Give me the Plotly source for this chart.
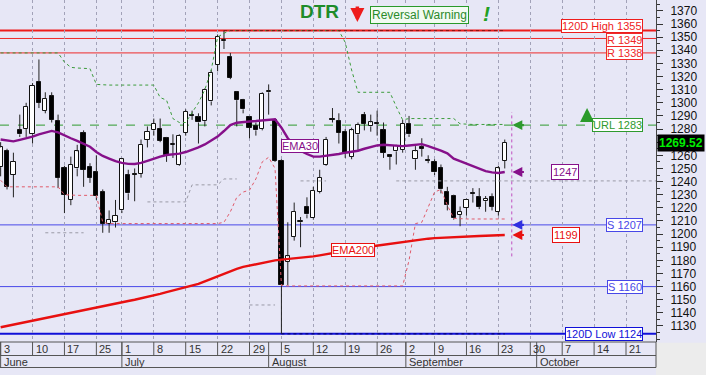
import plotly.graph_objects as go
import pandas as pd
import numpy as np

# ---------------- data ----------------
holidays = ["2013-06-24", "2013-09-02"]
all_days = pd.bdate_range("2013-06-03", "2013-10-31")
trade_days = [d for d in all_days if d.strftime("%Y-%m-%d") not in holidays]

opens = [1251, 1263, 1245, 1279, 1280, 1276, 1316, 1294, 1305, 1286,
         1250, 1226, 1250, 1277, 1251, 1247, 1232, 1208, 1209, 1218,
         1245, 1246, 1246, 1272, 1279, 1280, 1273, 1268, 1253, 1277,
         1291, 1289, 1286, 1301, 1329, 1347, 1335, 1308, 1302, 1289,
         1282, 1280, 1308, 1287, 1256, 1179, 1198, 1209, 1221, 1212,
         1232, 1253, 1288, 1286, 1278, 1259, 1276, 1291, 1282, 1284.5,
         1279, 1260, 1263, 1264, 1284, 1257, 1266, 1256.5, 1255, 1250,
         1232, 1229, 1214.5, 1220, 1231, 1228, 1225, 1228, 1217, 1256]
highs = [1270, 1265, 1262, 1291, 1300, 1315, 1333, 1308, 1308, 1291,
         1252, 1259, 1268, 1279, 1254, 1260, 1234, 1218, 1226, 1258,
         1249, 1250, 1272, 1282, 1288, 1288, 1274, 1276, 1276, 1295,
         1294, 1292, 1311, 1325, 1352, 1355, 1338, 1309, 1303, 1290,
         1285, 1308, 1314, 1288, 1257, 1209, 1224, 1213, 1228, 1236,
         1249, 1274, 1296, 1292, 1280, 1281, 1285, 1293, 1291, 1294,
         1285, 1261, 1268, 1287, 1290, 1267, 1273, 1260, 1257, 1253,
         1236, 1230, 1221, 1227, 1235, 1235, 1229, 1231, 1252, 1272]
lows = [1244, 1234, 1228, 1274, 1274, 1269, 1296, 1292, 1285, 1235,
        1216, 1222, 1244, 1236, 1239, 1226, 1201, 1201, 1205, 1216,
        1226, 1225, 1243, 1266, 1275, 1270, 1255, 1258, 1252, 1275,
        1287, 1269, 1282, 1298, 1324, 1341, 1318, 1282, 1292, 1273,
        1275, 1279, 1291, 1255, 1124, 1161, 1195, 1190, 1212, 1211,
        1231, 1252, 1285, 1269, 1258, 1257, 1264, 1279, 1278, 1275,
        1258, 1249, 1253, 1262, 1274, 1249, 1259, 1254, 1245, 1231,
        1218, 1211, 1206, 1214, 1224, 1219, 1217, 1218, 1214, 1250]
closes = [1266, 1236, 1255, 1276, 1297, 1313, 1300, 1303, 1287, 1243,
          1230, 1253, 1263, 1249, 1243, 1229, 1208, 1211, 1214, 1257,
          1231, 1245, 1268, 1278, 1284, 1271, 1260, 1269, 1275, 1293,
          1290, 1285, 1310, 1323, 1350, 1347.5, 1319, 1302, 1295, 1281,
          1279, 1307, 1308.5, 1256, 1161, 1183, 1217, 1210, 1215, 1233,
          1243, 1272, 1287, 1277, 1262, 1279, 1283, 1284, 1285, 1284,
          1262, 1259, 1267, 1284, 1276, 1263, 1265, 1256, 1247, 1234,
          1222, 1212, 1217, 1226, 1230.5, 1221, 1227, 1221, 1250, 1269.52]

ema30 = [1272, 1271.2, 1270.6, 1271.8, 1273, 1274.2, 1276, 1277.5, 1278.6, 1277.5,
         1275, 1273, 1271, 1269, 1266.5, 1262.5, 1259.5, 1257.5, 1255.5, 1254.2,
         1253.5, 1253.4, 1254.2, 1255.8, 1257.5, 1259, 1260.2, 1260.8, 1261.3, 1262.5,
         1264.2, 1266, 1268.3, 1271, 1274.3, 1278.5, 1283, 1284.8, 1285.5, 1285.8,
         1286.1, 1286.5, 1287, 1287.5, 1281, 1273, 1268, 1263.5, 1261, 1259,
         1259, 1259.5, 1260.5, 1261, 1262, 1262.5, 1263.5, 1265, 1266.5, 1267.5,
         1268, 1267.5, 1267, 1267, 1267.5, 1268, 1268.5, 1267, 1265.5, 1263.5,
         1261.5, 1257.5, 1255.5, 1253.5, 1251.5, 1249.5, 1248, 1247, 1246.5, 1247.3]
ema200 = [1129, 1130, 1131, 1132, 1133, 1134, 1135.5, 1136.5, 1137.2, 1138,
          1139, 1140, 1141, 1142, 1143, 1144.5, 1145.3, 1146, 1147, 1148,
          1149, 1150, 1151, 1152.2, 1153.2, 1154.5, 1155.8, 1157, 1158.3, 1159.5,
          1160.8, 1162, 1164, 1166, 1168, 1170, 1172, 1173.5, 1175, 1176,
          1177, 1178.5, 1179.3, 1180, 1180.5, 1181, 1181.3, 1181.7, 1182.3, 1183,
          1183.8, 1184.7, 1185.5, 1186.5, 1187.5, 1188.3, 1189, 1189.8, 1190.5, 1191.2,
          1192, 1192.7, 1193.4, 1194, 1194.7, 1195.3, 1196, 1196.5, 1196.9, 1197.2,
          1197.5, 1197.7, 1197.9, 1198.1, 1198.3, 1198.5, 1198.7, 1198.8, 1199, 1199.3]
upper_band = [1338, 1338, 1338, 1338, 1338, 1338, 1338, 1338, 1338, 1338,
              1331, 1327, 1326.5, 1326.5, 1326, 1314, 1313.5, 1313.5, 1313.5, 1313.5,
              1313.5, 1313.5, 1313.5, 1313.5, 1313.5, 1304, 1302, 1288, 1285, 1285,
              1293, 1300, 1310, 1325, 1350, 1353, 1355, 1355, 1355, 1355,
              1355, 1355, 1355, 1355, 1355, 1355, 1355, 1355, 1355, 1355,
              1355, 1355, 1355, 1355, 1346, 1325, 1308, 1308, 1308, 1308,
              1308, 1308, 1297, 1287, 1288, 1288, 1288, 1288, 1288, 1288,
              1288, 1288, 1284, 1283.5, 1283.5, 1283.5, 1283.5, 1283.5, 1283.5, 1283.5]
lower_band = [1241, 1236, 1236, 1236, 1236, 1236, 1236, 1236, 1236, 1236,
              1230, 1229.5, 1229.5, 1229.5, 1229.5, 1229.5, 1209, 1208, 1208, 1208,
              1208, 1208, 1208, 1208, 1208, 1208, 1208, 1208, 1208, 1208,
              1208, 1208, 1208, 1208, 1208, 1209, 1217, 1228, 1232, 1233.5,
              1242, 1255, 1258.5, 1250, 1161, 1160.5, 1160.5, 1160.5, 1160.5, 1160.5,
              1160.5, 1160.5, 1160.5, 1160.5, 1160.5, 1160.5, 1160.5, 1160.5, 1160.5, 1160.5,
              1160.5, 1160.5, 1160.5, 1160.5, 1180, 1208, 1209, 1220, 1232, 1234,
              1222, 1212, 1211.5, 1211.5, 1211.5, 1211.5, 1211.5, 1211.5, 1211.5, 1211.5]
N = None
grey_band = [N, N, N, N, N, N, N, 1201, 1201, 1201,
             1201, 1201, 1201, 1201, N, N, N, N, N, N,
             N, N, N, 1224.5, 1224.5, 1224.5, 1224.5, 1224.5, 1224.5, 1224.5,
             1237.5, 1237.5, 1237.5, 1237.5, 1237.5, 1242, 1242, 1242, N, 1146,
             1146, 1146, 1146, 1146, N, N, N, 1240.5, 1240.5, 1240.5,
             1240.5, 1240.5, N, N, N, N, N, N, N, N,
             N, N, 1240.5, 1240.5, 1240.5, 1240.5, 1240.5, 1240.5, 1240.5, 1240.5,
             1240.5, 1240.5, 1240.5, 1240.5, 1240.5, 1240.5, 1240.5, 1240.5, 1240.5, 1240.5]

level_labels = ["120D High 1355", "R 1349", "R 1338", "URL 1283", "S 1207", "S 1160", "120D Low 1124"]
level_values = [1355, 1349, 1338, 1283, 1207, 1160, 1124]
level_colors = ["#ee1c1c", "#ee2a2a", "#ee2a2a", "#2e9a2e", "#4848e8", "#4848e8", "#1010d8"]
level_box_shift = [5, -2, 0, 0, 0, 0, 0]

week_tick_dates = ["2013-06-03", "2013-06-10", "2013-06-17", "2013-06-25", "2013-07-01",
                   "2013-07-08", "2013-07-15", "2013-07-22", "2013-07-29", "2013-08-05",
                   "2013-08-12", "2013-08-19", "2013-08-26", "2013-09-02", "2013-09-09",
                   "2013-09-16", "2013-09-23", "2013-09-30", "2013-10-07", "2013-10-14",
                   "2013-10-21"]
month_dates = ["2013-06-03", "2013-07-01", "2013-08-01", "2013-09-02", "2013-10-01"]
month_names = ["June", "July", "August", "September", "October"]

y_ticks = list(range(1130, 1371, 10))
vline_top, vline_bottom = 1293, 1183

# ---------------- helpers ----------------
td_index = pd.DatetimeIndex(trade_days)


def pos(ds):
    d = pd.Timestamp(ds)
    k = td_index.searchsorted(d)
    if k < len(td_index) and td_index[k] == d:
        return float(k)
    return k - 0.5


n = len(closes)
x = list(range(n))
week_pos = [pos(d) for d in week_tick_dates]
week_txt = [str(pd.Timestamp(d).day) for d in week_tick_dates]
month_pos = [pos(d) for d in month_dates]
last_price = closes[-1]
y_ticktext = ["" if abs(v - last_price) < 4 else str(v) for v in y_ticks]

XR = [-0.1, 102.7]
YR = [1117.8, 1378.3]
FONT = "Liberation Sans Narrow, Arial Narrow, Liberation Sans, Arial, sans-serif"
FONT_R = "Liberation Sans, Arial, sans-serif"

fig = go.Figure()

# candle bodies (bars) and wicks (split so they never cross the bodies)
body_lo = [min(o, c) for o, c in zip(opens, closes)]
body_hi = [max(o, c) for o, c in zip(opens, closes)]
body_h = [max(h - l, 0.7) for h, l in zip(body_hi, body_lo)]
body_fill = ["#ffffff" if c >= o else "#000000" for o, c in zip(opens, closes)]
fig.add_trace(go.Bar(x=x, y=body_h, base=body_lo, width=0.66,
                     marker=dict(color=body_fill, line=dict(color="#111111", width=1)),
                     hoverinfo="skip"))
wx, wy = [], []
for i in range(n):
    wx += [i, i, None, i, i, None]
    wy += [highs[i], body_hi[i], None, body_lo[i], lows[i], None]
fig.add_trace(go.Scatter(x=wx, y=wy, mode="lines", line=dict(color="#222222", width=1),
                         connectgaps=False, hoverinfo="skip"))

# bands
fig.add_trace(go.Scatter(x=x, y=grey_band, mode="lines", line=dict(color="#9a9aa6", width=1, dash="dot"),
                         connectgaps=False, hoverinfo="skip"))
fig.add_trace(go.Scatter(x=x, y=upper_band, mode="lines", line=dict(color="#3c9c3c", width=1, dash="dot"),
                         hoverinfo="skip"))
fig.add_trace(go.Scatter(x=x, y=lower_band, mode="lines", line=dict(color="#e05a6a", width=1, dash="dot"),
                         hoverinfo="skip"))

# EMAs
fig.add_trace(go.Scatter(x=x, y=ema30, mode="lines", line=dict(color="#86108a", width=2.4), hoverinfo="skip"))
fig.add_trace(go.Scatter(x=x, y=ema200, mode="lines", line=dict(color="#e81010", width=2.4), hoverinfo="skip"))

# dotted extreme markers
hi_idx = int(np.argmax(highs))
lo_idx = int(np.argmin(lows))
fig.add_trace(go.Scatter(x=[hi_idx, n - 1], y=[max(highs)] * 2, mode="lines",
                         line=dict(color="#8a1010", width=1, dash="dot"), hoverinfo="skip"))
fig.add_trace(go.Scatter(x=[lo_idx, n - 1], y=[min(lows)] * 2, mode="lines",
                         line=dict(color="#000060", width=1, dash="dot"), hoverinfo="skip"))

shapes = []
annotations = []

for lab, val, col, sh in zip(level_labels, level_values, level_colors, level_box_shift):
    w = 2 if "120D" in lab else 1
    dash = "dash" if lab.startswith("URL") else "solid"
    shapes.append(dict(type="line", xref="paper", x0=0, x1=1, yref="y", y0=val, y1=val,
                       line=dict(color=col, width=w, dash=dash), layer="below"))
    annotations.append(dict(xref="paper", x=643 / 656, xanchor="right", yref="y", y=val,
                            yshift=sh,
                            text=lab, showarrow=False, font=dict(family=FONT, size=11, color=col),
                            bgcolor="#ffffff", bordercolor=col, borderwidth=1, borderpad=0))

shapes.append(dict(type="line", xref="x", x0=n - 1, x1=XR[1], yref="y", y0=1240.5, y1=1240.5,
                   line=dict(color="#9a9aa6", width=1, dash="dot"), layer="below"))

shapes.append(dict(type="line", xref="x", x0=n + 0.1, x1=n + 0.1, yref="y", y0=vline_bottom, y1=vline_top,
                   line=dict(color="#c050c0", width=1, dash="dot")))

arr_x = n + 0.2
for val, col in [(level_values[3], "#2e9a2e"), (ema30[-1], "#86108a"),
                 (level_values[4], "#3030e0"), (ema200[-1], "#e81010")]:
    annotations.append(dict(x=arr_x, y=val, xref="x", yref="y", ax=13, ay=0, text="",
                            showarrow=True, arrowhead=2, arrowsize=0.9, arrowwidth=2.2, arrowcolor=col))

annotations.append(dict(x=88.4, y=ema30[-1], xref="x", yref="y", text=f"{ema30[-1]:.0f}", showarrow=False,
                        font=dict(family=FONT_R, size=11, color="#86108a"), bgcolor="#ffffff",
                        bordercolor="#86108a", borderwidth=1, borderpad=1))
annotations.append(dict(x=88.6, y=ema200[-1], xref="x", yref="y", text=f"{ema200[-1]:.0f}", showarrow=False,
                        font=dict(family=FONT_R, size=11, color="#e81010"), bgcolor="#ffffff",
                        bordercolor="#e81010", borderwidth=1, borderpad=1))

annotations.append(dict(x=46.9, y=1267.1, xref="x", yref="y", text="EMA30", showarrow=False,
                        font=dict(family=FONT_R, size=11, color="#86108a"), bgcolor="#ffffff",
                        bordercolor="#86108a", borderwidth=1, borderpad=0))
annotations.append(dict(x=55.2, y=1187.5, xref="x", yref="y", text="EMA200", showarrow=False,
                        font=dict(family=FONT_R, size=11, color="#e81010"), bgcolor="#ffffff",
                        bordercolor="#e81010", borderwidth=1, borderpad=0))

annotations.append(dict(x=91.9, y=1296, xref="x", yref="y", ax=0, ay=15, text="", showarrow=True,
                        arrowhead=2, arrowsize=0.7, arrowwidth=4, arrowcolor="#2a9a2a"))

annotations.append(dict(x=49.9, y=1369.2, xref="x", yref="y", text="<b>DTR</b>", showarrow=False,
                        font=dict(family=FONT_R, size=19, color="#1e8c2a")))
annotations.append(dict(x=55.9, y=1361.5, xref="x", yref="y", ax=0, ay=-17, text="", showarrow=True,
                        arrowhead=2, arrowsize=0.8, arrowwidth=3.5, arrowcolor="#ee1c1c"))
annotations.append(dict(x=65.6, y=1366.9, xref="x", yref="y", text="Reversal Warning", showarrow=False,
                        font=dict(family=FONT, size=12, color="#2a8a2a"), bgcolor="#f2fbf2",
                        bordercolor="#2a9a2a", borderwidth=1, borderpad=1))
annotations.append(dict(x=76.1, y=1368.0, xref="x", yref="y", text="<b><i>!</i></b>", showarrow=False,
                        font=dict(family=FONT_R, size=21, color="#22a022")))

annotations.append(dict(xref="paper", x=1.0, xanchor="left", xshift=1, yref="y", y=last_price,
                        text=f"<b>{last_price:.2f}</b>", showarrow=False,
                        font=dict(family=FONT, size=12, color="#00ee00"), bgcolor="#000000",
                        borderpad=1))

# ---------------- bottom date band ----------------
PLOT_H = 342.0
yrow1 = -(355.5 - PLOT_H) / PLOT_H
yrow2 = -(367.5 - PLOT_H) / PLOT_H
band_col = "#555555"
shapes.append(dict(type="rect", xref="paper", x0=1.0, x1=1.1, yref="paper", y0=-0.002, y1=-0.12,
                   fillcolor="#ececec", line=dict(width=0), layer="below"))
for yy in [0, yrow1, yrow2]:
    shapes.append(dict(type="line", xref="paper", x0=0, x1=1, yref="paper", y0=yy, y1=yy,
                       line=dict(color=band_col, width=1)))
shapes.append(dict(type="line", xref="paper", x0=1, x1=1, yref="paper", y0=0, y1=yrow2,
                   line=dict(color=band_col, width=1)))
for p, t in zip(week_pos, week_txt):
    shapes.append(dict(type="line", xref="x", x0=p, x1=p, yref="paper", y0=0, y1=yrow1,
                       line=dict(color=band_col, width=1)))
    annotations.append(dict(x=p, xref="x", xanchor="left", xshift=1, y=(0 + yrow1) / 2, yref="paper",
                            yanchor="middle", text=t, showarrow=False,
                            font=dict(family=FONT, size=11, color="#333333")))
for p, t in zip(month_pos, month_names):
    shapes.append(dict(type="line", xref="x", x0=p, x1=p, yref="paper", y0=0, y1=yrow2,
                       line=dict(color=band_col, width=1)))
    annotations.append(dict(x=max(p, 0), xref="x", xanchor="left", xshift=1, y=(yrow1 + yrow2) / 2,
                            yref="paper", yanchor="middle", text=t, showarrow=False,
                            font=dict(family=FONT, size=11, color="#333333")))

fig.update_layout(
    width=706, height=375,
    margin=dict(l=0, r=50, t=0, b=33),
    paper_bgcolor="#e7e7f6",
    plot_bgcolor="#e7e7f6",
    showlegend=False,
    hovermode=False,
    bargap=0,
    shapes=shapes,
    annotations=annotations,
    xaxis=dict(range=XR, showticklabels=False, tickvals=week_pos, ticks="",
               showgrid=True, gridcolor="#a2a2b8", griddash="dot", gridwidth=1,
               zeroline=False, showline=False, fixedrange=True),
    yaxis=dict(range=YR, side="right", tickvals=y_ticks, ticktext=y_ticktext, ticks="outside",
               ticklen=6, tickwidth=1,
               tickcolor="#333333", showline=True, linecolor="#444444", linewidth=1,
               minor=dict(dtick=5, tick0=1125, ticks="outside", ticklen=3, tickcolor="#333333"),
               showgrid=False, zeroline=False, ticklabelstandoff=5,
               tickfont=dict(family=FONT, size=12, color="#111111"), fixedrange=True),
)

fig.write_html("out.html")
